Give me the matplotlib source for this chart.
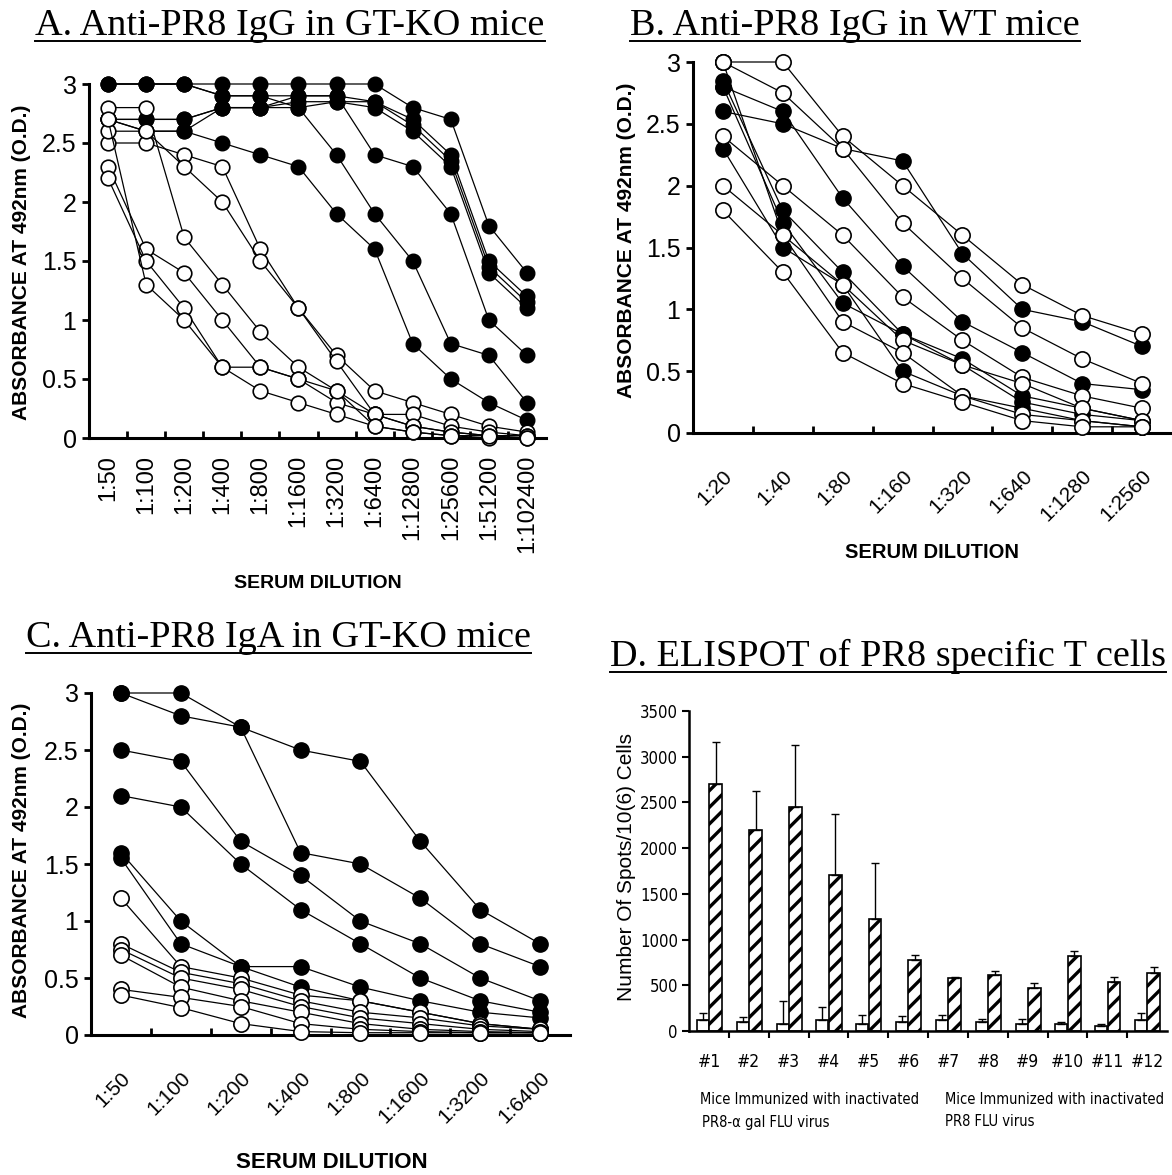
import numpy as np
import matplotlib
matplotlib.use('Agg')
import matplotlib.pyplot as plt
from matplotlib import font_manager
from matplotlib.font_manager import FontProperties
from matplotlib.lines import Line2D

# ---- data ----
dil_a = ['1:50', '1:100', '1:200', '1:400', '1:800', '1:1600', '1:3200',
         '1:6400', '1:12800', '1:25600', '1:51200', '1:102400']
a_filled = [
    [3.0, 3.0, 3.0, 3.0, 3.0, 3.0, 3.0, 3.0, 2.8, 2.7, 1.8, 1.4],
    [3.0, 3.0, 3.0, 2.9, 2.9, 2.9, 2.9, 2.85, 2.7, 2.4, 1.5, 1.2],
    [2.7, 2.7, 2.7, 2.8, 2.8, 2.8, 2.85, 2.8, 2.6, 2.3, 1.4, 1.1],
    [3.0, 3.0, 3.0, 2.9, 2.9, 2.8, 2.4, 1.9, 1.5, 0.8, 0.7, 0.3],
    [2.7, 2.6, 2.6, 2.5, 2.4, 2.3, 1.9, 1.6, 0.8, 0.5, 0.3, 0.15],
    [2.7, 2.7, 2.7, 2.8, 2.8, 2.9, 2.9, 2.4, 2.3, 1.9, 1.0, 0.7],
    [2.7, 2.6, 2.6, 2.8, 2.8, 2.85, 2.85, 2.85, 2.65, 2.35, 1.45, 1.15],
]
a_open = [
    [2.8, 2.8, 1.7, 1.3, 0.9, 0.6, 0.4, 0.2, 0.1, 0.05, 0.02, 0.02],
    [2.5, 2.5, 2.4, 2.3, 1.6, 1.1, 0.7, 0.4, 0.3, 0.2, 0.1, 0.05],
    [2.6, 2.6, 2.3, 2.0, 1.5, 1.1, 0.65, 0.2, 0.2, 0.1, 0.05, 0.02],
    [2.3, 1.6, 1.4, 1.0, 0.6, 0.5, 0.3, 0.2, 0.1, 0.05, 0.02, 0.02],
    [2.2, 1.5, 1.1, 0.6, 0.4, 0.3, 0.2, 0.1, 0.05, 0.02, 0.0, 0.0],
    [2.7, 1.3, 1.0, 0.6, 0.6, 0.5, 0.4, 0.1, 0.05, 0.02, 0.02, 0.0],
]

dil_b = ['1:20', '1:40', '1:80', '1:160', '1:320', '1:640', '1:1280', '1:2560']
b_filled = [
    [2.6, 2.5, 2.3, 2.2, 1.45, 1.0, 0.9, 0.7],
    [2.8, 2.6, 1.9, 1.35, 0.9, 0.65, 0.4, 0.35],
    [2.85, 1.8, 1.3, 0.8, 0.6, 0.3, 0.2, 0.1],
    [2.8, 1.7, 1.05, 0.8, 0.55, 0.25, 0.15, 0.1],
    [2.3, 1.5, 1.2, 0.5, 0.3, 0.2, 0.1, 0.05],
]
b_open = [
    [3.0, 3.0, 2.4, 2.0, 1.6, 1.2, 0.95, 0.8],
    [3.0, 2.75, 2.3, 1.7, 1.25, 0.85, 0.6, 0.4],
    [2.4, 2.0, 1.6, 1.1, 0.75, 0.45, 0.3, 0.2],
    [3.0, 1.6, 1.2, 0.75, 0.55, 0.4, 0.2, 0.1],
    [2.0, 1.6, 0.9, 0.65, 0.3, 0.15, 0.1, 0.05],
    [1.8, 1.3, 0.65, 0.4, 0.25, 0.1, 0.05, 0.05],
]

dil_c = ['1:50', '1:100', '1:200', '1:400', '1:800', '1:1600', '1:3200', '1:6400']
c_filled = [
    [3.0, 3.0, 2.7, 2.5, 2.4, 1.7, 1.1, 0.8],
    [3.0, 2.8, 2.7, 1.6, 1.5, 1.2, 0.8, 0.6],
    [2.5, 2.4, 1.7, 1.4, 1.0, 0.8, 0.5, 0.3],
    [2.1, 2.0, 1.5, 1.1, 0.8, 0.5, 0.3, 0.2],
    [1.6, 1.0, 0.6, 0.6, 0.42, 0.3, 0.2, 0.15],
    [1.55, 0.8, 0.6, 0.42, 0.3, 0.2, 0.1, 0.05],
]
c_open = [
    [1.2, 0.6, 0.5, 0.35, 0.3, 0.2, 0.1, 0.05],
    [0.8, 0.55, 0.45, 0.3, 0.2, 0.15, 0.08, 0.05],
    [0.75, 0.5, 0.4, 0.25, 0.15, 0.1, 0.05, 0.03],
    [0.7, 0.42, 0.3, 0.2, 0.1, 0.05, 0.03, 0.02],
    [0.4, 0.33, 0.25, 0.1, 0.05, 0.03, 0.02, 0.02],
    [0.35, 0.24, 0.1, 0.03, 0.02, 0.02, 0.02, 0.02],
]

mice = ['#1', '#2', '#3', '#4', '#5', '#6', '#7', '#8', '#9', '#10', '#11', '#12']
spots_ctrl = [120, 100, 80, 120, 80, 100, 120, 100, 80, 80, 60, 120]
spots_ctrl_err = [80, 50, 250, 140, 100, 60, 60, 30, 50, 20, 20, 80]
spots_pr8 = [2700, 2200, 2450, 1710, 1220, 780, 580, 610, 470, 820, 540, 630]
spots_pr8_err = [460, 420, 680, 660, 620, 50, 10, 50, 50, 50, 50, 70]

# ---- fonts ----
plt.rcParams['font.family'] = 'Liberation Sans'
plt.rcParams['hatch.linewidth'] = 2.4

# a condensed face for panel D, if one is installed
narrow_file = None
for key in ['LiberationSansNarrow-Regular', 'DejaVuSansCondensed.ttf',
            'RobotoCondensed-Regular', 'Roboto_Condensed-Regular']:
    for f in font_manager.fontManager.ttflist:
        if key in f.fname:
            narrow_file = f.fname
            break
    if narrow_file:
        break


def narrow(size):
    if narrow_file:
        return FontProperties(fname=narrow_file, size=size)
    return FontProperties(family='Liberation Sans', size=size * 0.95)


W, H = 1172, 1175
fig = plt.figure(figsize=(W / 100, H / 100), dpi=100)


def axes_px(left, top, right, bottom):
    return fig.add_axes([left / W, 1 - bottom / H, (right - left) / W, (bottom - top) / H])


def ftext(x, y, s, **kw):
    return fig.text(x / W, 1 - y / H, s, **kw)


def curve_axes(ax, labels, rot, lab_size, ytick_size, pad):
    n = len(labels)
    ax.set_xlim(-0.5, n - 0.5)
    ax.set_ylim(0, 3)
    for side in ['top', 'right']:
        ax.spines[side].set_visible(False)
    for side in ['left', 'bottom']:
        ax.spines[side].set_linewidth(2.2)
    ax.set_xticks(range(n))
    if rot == 90:
        ax.set_xticklabels(labels, rotation=90, ha='center', va='top', fontsize=lab_size)
    else:
        ax.set_xticklabels(labels, rotation=45, ha='right', va='top',
                           rotation_mode='anchor', fontsize=lab_size)
    ax.set_xticks(np.arange(0.5, n - 0.5, 1), minor=True)
    ax.tick_params(axis='x', which='major', length=0, pad=pad)
    ax.tick_params(axis='x', which='minor', direction='in', length=5, width=2)
    ax.set_yticks(np.arange(0, 3.01, 0.5))
    ax.set_yticklabels(['0', '0.5', '1', '1.5', '2', '2.5', '3'])
    ax.tick_params(axis='y', direction='out', length=5, width=2, labelsize=ytick_size, pad=4)


def draw_curves(ax, filled, opened, ms):
    x = np.arange(len(filled[0]))
    for s in filled:
        ax.plot(x, s, '-o', color='black', lw=0.9, ms=ms, mfc='black', mec='black',
                mew=1.0, clip_on=False, zorder=3)
    for s in opened:
        ax.plot(x, s, '-o', color='black', lw=0.9, ms=ms, mfc='white', mec='black',
                mew=1.2, clip_on=False, zorder=4)


ylab = 'ABSORBANCE AT 492nm (O.D.)'

# ---- A ----
axA = axes_px(89, 84, 546, 438)
curve_axes(axA, dil_a, 90, 17, 18, 12)
draw_curves(axA, a_filled, a_open, 10.5)
ftext(22, 262, ylab, rotation=90, ha='center', va='center', fontsize=15, fontweight='bold')
ftext(318, 583, 'SERUM DILUTION', ha='center', va='center', fontsize=14, fontweight='bold')

# ---- B ----
axB = axes_px(693, 62, 1172, 433)
curve_axes(axB, dil_b, 45, 15, 18, 24)
draw_curves(axB, b_filled, b_open, 11)
ftext(626, 240, ylab, rotation=90, ha='center', va='center', fontsize=15, fontweight='bold')
ftext(932, 553, 'SERUM DILUTION', ha='center', va='center', fontsize=14.5, fontweight='bold')

# ---- C ----
axC = axes_px(91, 693, 570, 1035)
curve_axes(axC, dil_c, 45, 15, 18, 24)
draw_curves(axC, c_filled, c_open, 11)
ftext(22, 860, ylab, rotation=90, ha='center', va='center', fontsize=15, fontweight='bold')
ftext(332, 1162, 'SERUM DILUTION', ha='center', va='center', fontsize=16, fontweight='bold')

# ---- D ----
axD = axes_px(689, 711, 1167, 1031)
xd = np.arange(len(mice))
axD.bar(xd - 0.15, spots_ctrl, 0.3, color='white', edgecolor='black', lw=1.2,
        yerr=[np.zeros(len(mice)), spots_ctrl_err], capsize=3,
        error_kw=dict(lw=1, capthick=1, ecolor='black'))
axD.bar(xd + 0.17, spots_pr8, 0.32, color='white', edgecolor='black', lw=1.2, hatch='//',
        yerr=[np.zeros(len(mice)), spots_pr8_err], capsize=3,
        error_kw=dict(lw=1, capthick=1, ecolor='black'))
axD.set_xlim(-0.5, len(mice) - 0.5)
axD.set_ylim(0, 3500)
for side in ['top', 'right']:
    axD.spines[side].set_visible(False)
for side in ['left', 'bottom']:
    axD.spines[side].set_linewidth(1.8)
axD.set_yticks(np.arange(0, 3501, 500))
axD.set_xticks(xd)
axD.set_xticklabels(mice)
axD.set_xticks(np.arange(0.5, len(mice) - 0.5, 1), minor=True)
axD.tick_params(axis='x', which='major', length=0, pad=16)
axD.tick_params(axis='x', which='minor', direction='out', length=5, width=1.5)
axD.tick_params(axis='y', direction='out', length=5, width=1.5, pad=3)
for t in axD.get_yticklabels():
    t.set_fontproperties(narrow(12))
for t in axD.get_xticklabels():
    t.set_fontproperties(narrow(12.5))
ftext(627, 867, 'Number Of Spots/10(6) Cells', rotation=90, ha='center', va='center',
      fontsize=15)
ftext(700, 1100, 'Mice Immunized with inactivated', ha='left', va='center',
      fontproperties=narrow(10.5))
ftext(702, 1122, 'PR8-\u03b1 gal FLU virus', ha='left', va='center',
      fontproperties=narrow(10.5))
ftext(945, 1100, 'Mice Immunized with inactivated', ha='left', va='center',
      fontproperties=narrow(10.5))
ftext(945, 1122, 'PR8 FLU virus', ha='left', va='center',
      fontproperties=narrow(10.5))

# ---- titles (underlined) ----
titles = [
    (290, 35, 'A. Anti-PR8 IgG in GT-KO mice'),
    (855, 35, 'B. Anti-PR8 IgG in WT mice'),
    (278, 647, 'C. Anti-PR8 IgA in GT-KO mice'),
    (888, 666, 'D. ELISPOT of PR8 specific T cells'),
]
title_objs = []
for x, y, s in titles:
    title_objs.append(ftext(x, y, s, ha='center', va='baseline',
                            fontfamily='Liberation Serif', fontsize=27.5))

renderer = fig.canvas.get_renderer()
inv = fig.transFigure.inverted()
for t in title_objs:
    bb = t.get_window_extent(renderer)
    (x0, _), (x1, _) = inv.transform([(bb.x0, bb.y0), (bb.x1, bb.y0)])
    yb = t.get_position()[1] - 6 / H
    fig.add_artist(Line2D([x0, x1], [yb, yb], transform=fig.transFigure,
                          color='black', lw=1.4))

fig.savefig('out.png', dpi=100)
